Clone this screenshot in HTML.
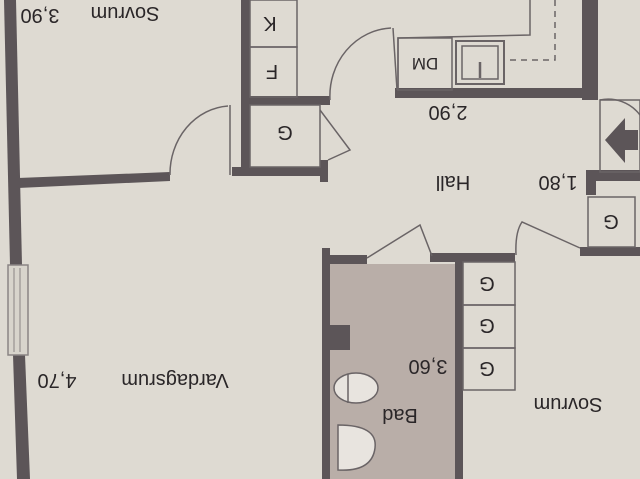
<!DOCTYPE html>
<html><head><meta charset="utf-8"><style>html,body{margin:0;padding:0;background:#dedad2}svg{display:block}</style></head>
<body>
<svg width="640" height="479" viewBox="0 0 640 479" xmlns="http://www.w3.org/2000/svg" font-family="Liberation Sans, sans-serif">
<rect width="640" height="479" fill="#dedad2"/>
<rect x="330" y="264" width="127" height="215" fill="#b9aea8"/>
<g fill="#5c5558">
<polygon points="4,0 16,0 22,265 10,265"/>
<polygon points="13,355 25,355 30,479 17,479"/>
<polygon points="18,178 170,172 170,181 18,188"/>
<rect x="232" y="167" width="95" height="9"/>
<rect x="320" y="160" width="8" height="22"/>
<rect x="241" y="0" width="9" height="172"/>
<rect x="248" y="96" width="82" height="9"/>
<rect x="395" y="88" width="190" height="10"/>
<rect x="582" y="0" width="16" height="100"/>
<rect x="586" y="170" width="54" height="11"/>
<rect x="586" y="170" width="10" height="25"/>
<rect x="580" y="247" width="60" height="9"/>
<rect x="322" y="248" width="8" height="231"/>
<rect x="322" y="255" width="45" height="9"/>
<rect x="430" y="253" width="85" height="9"/>
<rect x="455" y="253" width="8" height="226"/>
<rect x="330" y="325" width="20" height="25"/>
</g>
<rect x="8" y="265" width="20" height="90" fill="#d8d4cc" stroke="#8a8484" stroke-width="1.5"/>
<line x1="14" y1="268" x2="14" y2="352" stroke="#8a8484"/><line x1="20" y1="268" x2="20" y2="352" stroke="#8a8484"/>
<g fill="none" stroke="#6a6466" stroke-width="1.5">
<rect x="250" y="0" width="47" height="47"/>
<rect x="250" y="47" width="47" height="50"/>
<rect x="250" y="105" width="70" height="62"/>
<line x1="230" y1="105" x2="230" y2="175"/>
<path d="M170,175 A62,68 0 0 1 228,106"/>
<path d="M320,110 L350,150 L328,160"/>
<line x1="393" y1="28" x2="397" y2="90"/>
<path d="M330,100 A64,68 0 0 1 391,28"/>
<path d="M398,90 L398,38 L530,35 L530,0"/>
<rect x="398" y="38" width="54" height="52"/>
<rect x="456" y="41" width="48" height="43" stroke-width="2"/>
<rect x="462" y="46" width="36" height="33"/>
<line x1="480" y1="62" x2="480" y2="78" stroke-width="2.5"/>
<path d="M555,0 L555,60 L505,60" stroke-dasharray="6,5"/>
<rect x="600" y="100" width="40" height="72"/>
<path d="M600,100 A40,40 0 0 1 640,115"/>
<rect x="588" y="197" width="47" height="50"/>
<path d="M367,258 L420,225 L432,256"/>
<path d="M580,248 L522,222 Q515,232 516,255"/>
<rect x="463" y="262" width="52" height="43"/>
<rect x="463" y="305" width="52" height="43"/>
<rect x="463" y="348" width="52" height="42"/>
<ellipse cx="356" cy="388" rx="22" ry="15" fill="#e8e4df"/>
<line x1="348" y1="374" x2="348" y2="403"/>
<path d="M338,425 Q378,425 375,448 Q372,472 338,470 Z" fill="#e8e4df"/>
</g>
<polygon points="605,140 625,118 625,130 638,130 638,150 625,150 625,163" fill="#5c5558"/>
<g fill="#2a2628" font-size="20" text-anchor="middle">
<text transform="rotate(180 270 24)" x="270" y="31">K</text>
<text transform="rotate(180 272 72)" x="272" y="79">F</text>
<text transform="rotate(180 285 133)" x="285" y="140">G</text>
<text transform="rotate(180 425 65)" x="425" y="72" font-size="17">DM</text>
<text transform="rotate(180 448 113)" x="448" y="120">2,90</text>
<text transform="rotate(180 453 183)" x="453" y="190">Hall</text>
<text transform="rotate(180 558 183)" x="558" y="190">1,80</text>
<text transform="rotate(180 611 222)" x="611" y="229">G</text>
<text transform="rotate(180 487 284)" x="487" y="291">G</text>
<text transform="rotate(180 487 326)" x="487" y="333">G</text>
<text transform="rotate(180 487 369)" x="487" y="376">G</text>
<text transform="rotate(180 428 367)" x="428" y="374">3,60</text>
<text transform="rotate(180 400 416)" x="400" y="423">Bad</text>
<text transform="rotate(180 568 405)" x="568" y="412">Sovrum</text>
<text transform="rotate(180 175 381)" x="175" y="388">Vardagsrum</text>
<text transform="rotate(180 57 381)" x="57" y="388">4,70</text>
<text transform="rotate(180 125 14)" x="125" y="21">Sovrum</text>
<text transform="rotate(180 40 16)" x="40" y="23">3,90</text>
</g>
</svg>
</body></html>
